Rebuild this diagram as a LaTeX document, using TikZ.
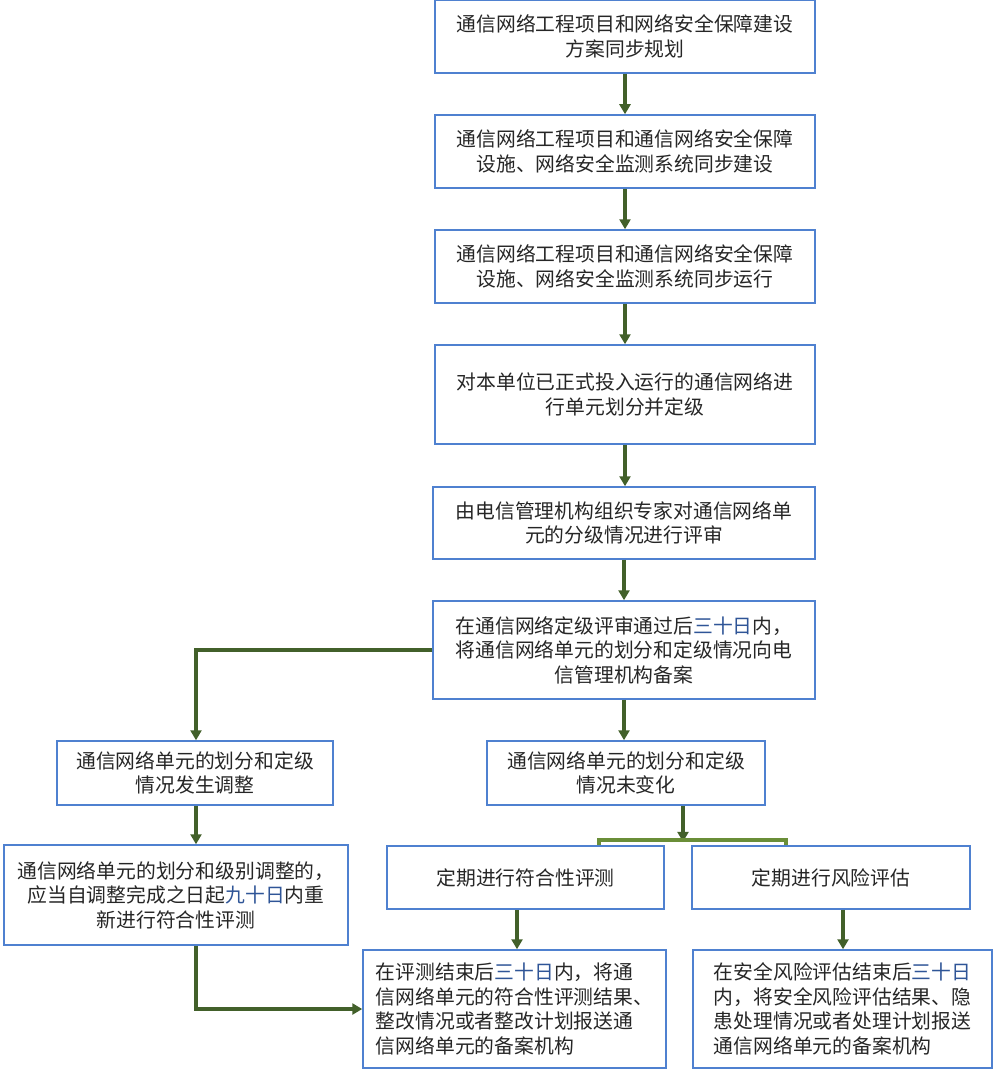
\documentclass[tikz,border=0pt]{standalone}
\usepackage{fontspec}
\usepackage{tikz}
\usetikzlibrary{arrows.meta, positioning, calc}
\usepackage{xcolor}
\newfontfamily\cjk{Noto Sans CJK SC}
\definecolor{boxblue}{HTML}{4F81D0}
\definecolor{arrowgreen}{HTML}{42602A}
\definecolor{forkgreen}{HTML}{6A8E38}
\definecolor{dayblue}{HTML}{2F5597}
\newcommand{\days}[1]{{\color{dayblue}#1}}

\begin{document}
\begin{tikzpicture}[x=1pt, y=-1pt,
		stepbox/.style={draw=boxblue, line width=1.5pt, fill=white, align=center,
			inner sep=0pt, text=black!85, font=\cjk\fontsize{19.8}{24.5}\selectfont},
		arrowline/.style={draw=arrowgreen, line width=3.6pt,
			-{Triangle[length=10pt, width=11pt]}},
		forkline/.style={draw=forkgreen, line width=3.6pt}]
	\useasboundingbox (0,0) rectangle (995,1070);

	% Hauptkette (Mitte)
	\node[stepbox, minimum width=380pt, minimum height=73pt] (plan) at (625,36.5)
		{通信网络工程项目和网络安全保障建设\\方案同步规划};
	\node[stepbox, minimum width=380pt, minimum height=73pt] (build) at (625,151.5)
		{通信网络工程项目和通信网络安全保障\\设施、网络安全监测系统同步建设};
	\node[stepbox, minimum width=380pt, minimum height=73pt] (run) at (625,266.5)
		{通信网络工程项目和通信网络安全保障\\设施、网络安全监测系统同步运行};
	\node[stepbox, minimum width=380pt, minimum height=99pt] (grade) at (625,394.5)
		{对本单位已正式投入运行的通信网络进\\行单元划分并定级};
	\node[stepbox, minimum width=382pt, minimum height=72pt] (review) at (624,523)
		{由电信管理机构组织专家对通信网络单\\元的分级情况进行评审};
	\node[stepbox, minimum width=382pt, minimum height=98pt] (record) at (624,650)
		{在通信网络定级评审通过后\days{三十日}内，\\将通信网络单元的划分和定级情况向电\\信管理机构备案};

	% Zweige
	\node[stepbox, minimum width=276pt, minimum height=64pt] (adjust) at (195,773)
		{通信网络单元的划分和定级\\情况发生调整};
	\node[stepbox, minimum width=278pt, minimum height=64pt] (keep) at (626,773)
		{通信网络单元的划分和定级\\情况未变化};
	\node[stepbox, minimum width=344pt, minimum height=100pt] (retest) at (176,895)
		{通信网络单元的划分和级别调整的，\\应当自调整完成之日起\days{九十日}内重\\新进行符合性评测};
	\node[stepbox, minimum width=277pt, minimum height=63pt] (conform) at (525.5,877.5)
		{定期进行符合性评测};
	\node[stepbox, minimum width=278pt, minimum height=63pt] (risk) at (831,877.5)
		{定期进行风险评估};
	\node[stepbox, align=left, minimum width=303pt, minimum height=118pt] (report) at (514.5,1009)
		{在评测结束后\days{三十日}内，将通\\信网络单元的符合性评测结果、\\整改情况或者整改计划报送通\\信网络单元的备案机构};
	\node[stepbox, align=left, minimum width=299pt, minimum height=118pt] (riskreport) at (842.5,1009)
		{在安全风险评估结束后\days{三十日}\\内，将安全风险评估结果、隐\\患处理情况或者处理计划报送\\通信网络单元的备案机构};

	% Hilfspunkte
	\coordinate (leftx) at (196,0);
	\coordinate (forkmid) at (683,840);
	\coordinate (forkL) at (599,840);
	\coordinate (forkR) at (786,840);
	\coordinate (confx) at (517,0);
	\coordinate (riskx) at (843,0);

	% Pfeile
	\draw[arrowline] (plan) -- (build);
	\draw[arrowline] (build) -- (run);
	\draw[arrowline] (run) -- (grade);
	\draw[arrowline] (grade.south) -- (grade.south |- review.north);
	\draw[arrowline] (review) -- (record);
	\draw[arrowline] (record.west) -| (adjust.north -| leftx);
	\draw[arrowline] (record.south) -- (record.south |- keep.north);
	\draw[arrowline] (adjust.south -| leftx) -- (retest.north -| leftx);
	\draw[arrowline] (retest.south -| leftx) |- (report.west);
	\draw[arrowline] (keep.south -| forkmid) -- ([yshift=-1.8pt]forkmid);
	\draw[forkline] (forkL |- conform.north) -- (forkL) -- (forkR) -- (forkR |- risk.north);
	\draw[arrowline] (conform.south -| confx) -- (report.north -| confx);
	\draw[arrowline] (risk.south -| riskx) -- (riskreport.north -| riskx);
\end{tikzpicture}
\end{document}
